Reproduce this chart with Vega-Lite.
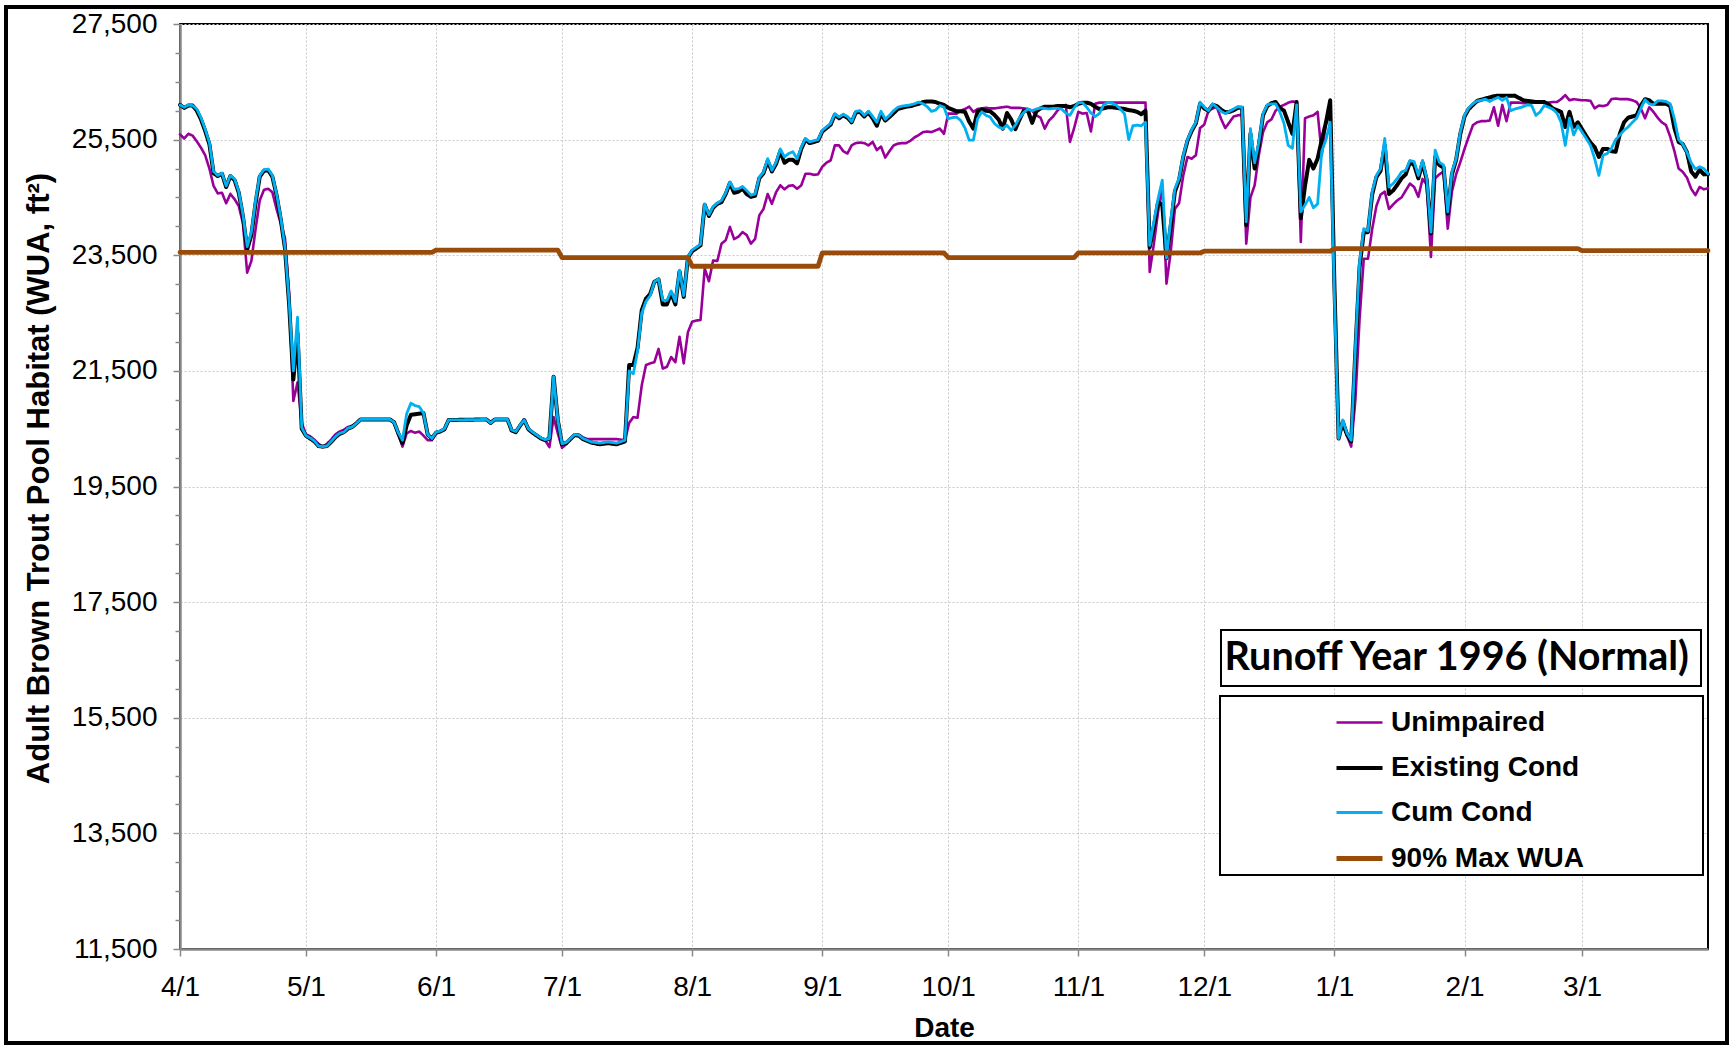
{
  "$schema": "https://vega.github.io/schema/vega-lite/v6.json",
  "width": 1528,
  "height": 925,
  "autosize": {"type": "none"},
  "padding": {"left": 180, "top": 24, "right": 22, "bottom": 97},
  "background": "white",
  "config": {
    "font": "Liberation Sans",
    "view": {"stroke": "#000000", "strokeWidth": 2}
  },
  "data": {
    "format": {"parse": {"d": "date:'%m/%d/%y'"}},
    "values": [
      {"d":"4/1/96","c":26100,"e":26100,"u":25590,"m":23550},
      {"d":"4/2/96","c":26060,"e":26050,"u":25520},
      {"d":"4/3/96","c":26100,"e":26090,"u":25600},
      {"d":"4/4/96","c":26090,"e":26090,"u":25570},
      {"d":"4/5/96","c":26030,"e":26000,"u":25470},
      {"d":"4/6/96","c":25880,"e":25850,"u":25360},
      {"d":"4/7/96","c":25680,"e":25650,"u":25230},
      {"d":"4/8/96","c":25450,"e":25420,"u":25000},
      {"d":"4/9/96","c":24950,"e":24920,"u":24700},
      {"d":"4/10/96","c":24880,"e":24870,"u":24570},
      {"d":"4/11/96","c":24920,"e":24910,"u":24580},
      {"d":"4/12/96","c":24700,"e":24680,"u":24400},
      {"d":"4/13/96","c":24880,"e":24870,"u":24560},
      {"d":"4/14/96","c":24820,"e":24800,"u":24470},
      {"d":"4/15/96","c":24600,"e":24580,"u":24350},
      {"d":"4/16/96","c":24200,"e":24170,"u":24050},
      {"d":"4/17/96","c":23650,"e":23600,"u":23200},
      {"d":"4/18/96","c":23900,"e":23850,"u":23400},
      {"d":"4/19/96","c":24450,"e":24400,"u":23950},
      {"d":"4/20/96","c":24880,"e":24860,"u":24450},
      {"d":"4/21/96","c":24980,"e":24960,"u":24630},
      {"d":"4/22/96","c":24990,"e":24970,"u":24650},
      {"d":"4/23/96","c":24880,"e":24860,"u":24590},
      {"d":"4/24/96","c":24560,"e":24540,"u":24300},
      {"d":"4/25/96","c":24150,"e":24120,"u":24050},
      {"d":"4/26/96","c":23650,"e":23620,"u":23800},
      {"d":"4/27/96","c":22700,"e":22650,"u":22850},
      {"d":"4/28/96","c":21500,"e":21350,"u":20980},
      {"d":"4/29/96","c":22430,"e":22150,"u":21300},
      {"d":"4/30/96","c":20520,"e":20500,"u":20600},
      {"d":"5/1/96","c":20380,"e":20380,"u":20400},
      {"d":"5/2/96","c":20340,"e":20330,"u":20370},
      {"d":"5/3/96","c":20290,"e":20280,"u":20310},
      {"d":"5/4/96","c":20200,"e":20200,"u":20240},
      {"d":"5/5/96","c":20190,"e":20190,"u":20180},
      {"d":"5/6/96","c":20200,"e":20200,"u":20240},
      {"d":"5/7/96","c":20280,"e":20270,"u":20310},
      {"d":"5/8/96","c":20360,"e":20350,"u":20400},
      {"d":"5/9/96","c":20420,"e":20410,"u":20450},
      {"d":"5/10/96","c":20440,"e":20440,"u":20480},
      {"d":"5/11/96","c":20510,"e":20500,"u":20530},
      {"d":"5/12/96","c":20530,"e":20530,"u":20550},
      {"d":"5/13/96","c":20590,"e":20590,"u":20600},
      {"d":"5/14/96","c":20660,"e":20660,"u":20660},
      {"d":"5/21/96","c":20660,"e":20660,"u":20660},
      {"d":"5/22/96","c":20610,"e":20610,"u":20600},
      {"d":"5/23/96","c":20430,"e":20420,"u":20400},
      {"d":"5/24/96","c":20300,"e":20250,"u":20190},
      {"d":"5/25/96","c":20760,"e":20560,"u":20420},
      {"d":"5/26/96","c":20940,"e":20740,"u":20460},
      {"d":"5/27/96","c":20900,"e":20750,"u":20430},
      {"d":"5/28/96","c":20880,"e":20760,"u":20450},
      {"d":"5/29/96","c":20770,"e":20770,"u":20380},
      {"d":"5/30/96","c":20400,"e":20400,"u":20300},
      {"d":"5/31/96","c":20330,"e":20330,"u":20300,"m":23550},
      {"d":"6/1/96","c":20440,"e":20430,"u":20420,"m":23590},
      {"d":"6/2/96","c":20460,"e":20450,"u":20450},
      {"d":"6/3/96","c":20500,"e":20490,"u":20480},
      {"d":"6/4/96","c":20650,"e":20650,"u":20650},
      {"d":"6/13/96","c":20660,"e":20660,"u":20660},
      {"d":"6/14/96","c":20600,"e":20600,"u":20600},
      {"d":"6/15/96","c":20660,"e":20660,"u":20660},
      {"d":"6/18/96","c":20660,"e":20660,"u":20660},
      {"d":"6/19/96","c":20480,"e":20470,"u":20480},
      {"d":"6/20/96","c":20450,"e":20440,"u":20450},
      {"d":"6/21/96","c":20560,"e":20550,"u":20560},
      {"d":"6/22/96","c":20650,"e":20650,"u":20650},
      {"d":"6/23/96","c":20500,"e":20490,"u":20500},
      {"d":"6/24/96","c":20440,"e":20430,"u":20440},
      {"d":"6/25/96","c":20390,"e":20380,"u":20390},
      {"d":"6/26/96","c":20340,"e":20330,"u":20340},
      {"d":"6/27/96","c":20310,"e":20300,"u":20300},
      {"d":"6/28/96","c":20330,"e":20330,"u":20180},
      {"d":"6/29/96","c":21400,"e":21400,"u":20700},
      {"d":"6/30/96","c":20650,"e":20650,"u":20420,"m":23590},
      {"d":"7/1/96","c":20240,"e":20230,"u":20170,"m":23460},
      {"d":"7/2/96","c":20260,"e":20250,"u":20230},
      {"d":"7/3/96","c":20330,"e":20320,"u":20330},
      {"d":"7/4/96","c":20400,"e":20390,"u":20400},
      {"d":"7/5/96","c":20390,"e":20380,"u":20400},
      {"d":"7/6/96","c":20330,"e":20320,"u":20350},
      {"d":"7/7/96","c":20300,"e":20290,"u":20320},
      {"d":"7/8/96","c":20270,"e":20260,"u":20320},
      {"d":"7/10/96","c":20250,"e":20230,"u":20320},
      {"d":"7/12/96","c":20270,"e":20250,"u":20320},
      {"d":"7/14/96","c":20250,"e":20230,"u":20320},
      {"d":"7/16/96","c":20300,"e":20280,"u":20300},
      {"d":"7/17/96","c":21500,"e":21600,"u":20600},
      {"d":"7/18/96","c":21450,"e":21600,"u":20700},
      {"d":"7/19/96","c":21850,"e":21900,"u":20690},
      {"d":"7/20/96","c":22500,"e":22550,"u":21250},
      {"d":"7/21/96","c":22700,"e":22750,"u":21600},
      {"d":"7/22/96","c":22800,"e":22830,"u":21630},
      {"d":"7/23/96","c":23040,"e":23040,"u":21650},
      {"d":"7/24/96","c":23090,"e":23080,"u":21880},
      {"d":"7/25/96","c":22720,"e":22650,"u":21540},
      {"d":"7/26/96","c":22720,"e":22650,"u":21570},
      {"d":"7/27/96","c":22880,"e":22850,"u":21740},
      {"d":"7/28/96","c":22700,"e":22650,"u":21650},
      {"d":"7/29/96","c":23240,"e":23220,"u":22090},
      {"d":"7/30/96","c":22800,"e":22780,"u":21630},
      {"d":"7/31/96","c":23470,"e":23460,"u":22170,"m":23460},
      {"d":"8/1/96","c":23590,"e":23570,"u":22350,"m":23310},
      {"d":"8/2/96","c":23640,"e":23620,"u":22370},
      {"d":"8/3/96","c":23690,"e":23670,"u":22380},
      {"d":"8/4/96","c":24390,"e":24370,"u":23270},
      {"d":"8/5/96","c":24200,"e":24180,"u":23050},
      {"d":"8/6/96","c":24340,"e":24320,"u":23410},
      {"d":"8/7/96","c":24400,"e":24390,"u":23400},
      {"d":"8/8/96","c":24450,"e":24420,"u":23700},
      {"d":"8/9/96","c":24580,"e":24560,"u":23760},
      {"d":"8/10/96","c":24770,"e":24750,"u":23990},
      {"d":"8/11/96","c":24640,"e":24580,"u":23780},
      {"d":"8/12/96","c":24650,"e":24600,"u":23820},
      {"d":"8/13/96","c":24690,"e":24650,"u":23900},
      {"d":"8/14/96","c":24620,"e":24560,"u":23850},
      {"d":"8/15/96","c":24540,"e":24510,"u":23700},
      {"d":"8/16/96","c":24560,"e":24530,"u":23780},
      {"d":"8/17/96","c":24850,"e":24830,"u":24190},
      {"d":"8/18/96","c":24940,"e":24920,"u":24300},
      {"d":"8/19/96","c":25170,"e":25130,"u":24560},
      {"d":"8/20/96","c":24970,"e":24950,"u":24390},
      {"d":"8/21/96","c":25110,"e":25080,"u":24590},
      {"d":"8/22/96","c":25340,"e":25300,"u":24710},
      {"d":"8/23/96","c":25200,"e":25100,"u":24640},
      {"d":"8/24/96","c":25260,"e":25150,"u":24700},
      {"d":"8/25/96","c":25290,"e":25150,"u":24710},
      {"d":"8/26/96","c":25170,"e":25090,"u":24650},
      {"d":"8/27/96","c":25370,"e":25340,"u":24710},
      {"d":"8/28/96","c":25520,"e":25500,"u":24910},
      {"d":"8/29/96","c":25460,"e":25440,"u":24910},
      {"d":"8/30/96","c":25480,"e":25460,"u":24890},
      {"d":"8/31/96","c":25500,"e":25480,"u":24900,"m":23310},
      {"d":"9/1/96","c":25660,"e":25640,"u":25030,"m":23540},
      {"d":"9/2/96","c":25720,"e":25700,"u":25100},
      {"d":"9/3/96","c":25780,"e":25760,"u":25140},
      {"d":"9/4/96","c":25950,"e":25930,"u":25400},
      {"d":"9/5/96","c":25890,"e":25870,"u":25400},
      {"d":"9/6/96","c":25940,"e":25920,"u":25300},
      {"d":"9/7/96","c":25900,"e":25880,"u":25260},
      {"d":"9/8/96","c":25810,"e":25800,"u":25400},
      {"d":"9/9/96","c":25990,"e":25970,"u":25440},
      {"d":"9/10/96","c":26000,"e":25980,"u":25450},
      {"d":"9/11/96","c":25920,"e":25900,"u":25440},
      {"d":"9/12/96","c":25990,"e":25970,"u":25400},
      {"d":"9/13/96","c":25900,"e":25870,"u":25460},
      {"d":"9/14/96","c":25800,"e":25740,"u":25320},
      {"d":"9/15/96","c":25990,"e":25950,"u":25380},
      {"d":"9/16/96","c":25850,"e":25830,"u":25190},
      {"d":"9/17/96","c":25920,"e":25890,"u":25300},
      {"d":"9/18/96","c":26000,"e":25960,"u":25400},
      {"d":"9/19/96","c":26060,"e":26030,"u":25430},
      {"d":"9/20/96","c":26080,"e":26050,"u":25440},
      {"d":"9/21/96","c":26090,"e":26070,"u":25440},
      {"d":"9/22/96","c":26100,"e":26080,"u":25480},
      {"d":"9/23/96","c":26120,"e":26100,"u":25540},
      {"d":"9/24/96","c":26150,"e":26120,"u":25580},
      {"d":"9/25/96","c":26120,"e":26150,"u":25630},
      {"d":"9/26/96","c":26070,"e":26160,"u":25640},
      {"d":"9/27/96","c":25990,"e":26160,"u":25630},
      {"d":"9/28/96","c":26010,"e":26150,"u":25660},
      {"d":"9/29/96","c":26090,"e":26120,"u":25690},
      {"d":"9/30/96","c":26060,"e":26100,"u":25600,"m":23540},
      {"d":"10/1/96","c":25860,"e":26050,"u":25950,"m":23460},
      {"d":"10/2/96","c":25880,"e":26020,"u":25950},
      {"d":"10/3/96","c":25890,"e":25990,"u":25950},
      {"d":"10/4/96","c":25830,"e":25990,"u":26000},
      {"d":"10/5/96","c":25700,"e":25980,"u":26030},
      {"d":"10/6/96","c":25490,"e":25810,"u":26070},
      {"d":"10/7/96","c":25490,"e":25690,"u":25980},
      {"d":"10/8/96","c":25860,"e":25990,"u":26030},
      {"d":"10/9/96","c":25980,"e":26020,"u":26040},
      {"d":"10/10/96","c":25920,"e":26000,"u":26050},
      {"d":"10/11/96","c":25890,"e":25990,"u":26040},
      {"d":"10/12/96","c":25780,"e":25930,"u":26040},
      {"d":"10/13/96","c":25720,"e":25850,"u":26050},
      {"d":"10/14/96","c":25690,"e":25690,"u":26060},
      {"d":"10/15/96","c":25750,"e":25960,"u":26070},
      {"d":"10/16/96","c":25660,"e":25850,"u":26050},
      {"d":"10/17/96","c":25750,"e":25680,"u":26050},
      {"d":"10/18/96","c":25880,"e":25850,"u":26050},
      {"d":"10/19/96","c":25970,"e":26000,"u":26040},
      {"d":"10/20/96","c":26030,"e":26000,"u":26030},
      {"d":"10/21/96","c":26000,"e":25790,"u":26000},
      {"d":"10/22/96","c":26030,"e":25990,"u":25920},
      {"d":"10/23/96","c":26050,"e":26040,"u":25880},
      {"d":"10/24/96","c":26040,"e":26070,"u":25690},
      {"d":"10/25/96","c":26030,"e":26070,"u":25830},
      {"d":"10/26/96","c":26040,"e":26070,"u":25900},
      {"d":"10/27/96","c":26040,"e":26080,"u":26000},
      {"d":"10/28/96","c":26030,"e":26080,"u":26070},
      {"d":"10/29/96","c":25960,"e":26080,"u":26100},
      {"d":"10/30/96","c":25920,"e":26060,"u":25460},
      {"d":"10/31/96","c":26050,"e":26080,"u":25700,"m":23460},
      {"d":"11/1/96","c":26140,"e":26120,"u":25980,"m":23540},
      {"d":"11/2/96","c":26140,"e":26140,"u":25950},
      {"d":"11/3/96","c":26060,"e":26140,"u":25960},
      {"d":"11/4/96","c":25960,"e":26120,"u":25640},
      {"d":"11/5/96","c":25900,"e":26070,"u":26120},
      {"d":"11/6/96","c":25950,"e":26030,"u":26140},
      {"d":"11/7/96","c":26100,"e":26040,"u":26140},
      {"d":"11/8/96","c":26140,"e":26060,"u":26140},
      {"d":"11/9/96","c":26130,"e":26060,"u":26140},
      {"d":"11/10/96","c":26100,"e":26050,"u":26140},
      {"d":"11/11/96","c":26030,"e":26040,"u":26140},
      {"d":"11/12/96","c":25950,"e":26030,"u":26140},
      {"d":"11/13/96","c":25500,"e":26010,"u":26140},
      {"d":"11/14/96","c":25740,"e":26000,"u":26140},
      {"d":"11/15/96","c":25750,"e":25980,"u":26140},
      {"d":"11/16/96","c":25740,"e":25940,"u":26140},
      {"d":"11/17/96","c":25800,"e":26000,"u":26140},
      {"d":"11/18/96","c":23670,"e":23640,"u":23210},
      {"d":"11/19/96","c":24080,"e":24000,"u":23700},
      {"d":"11/20/96","c":24480,"e":24420,"u":24250},
      {"d":"11/21/96","c":24800,"e":24370,"u":24700},
      {"d":"11/22/96","c":23450,"e":23450,"u":23010},
      {"d":"11/23/96","c":24100,"e":24000,"u":23550},
      {"d":"11/24/96","c":24650,"e":24600,"u":24300},
      {"d":"11/25/96","c":24830,"e":24800,"u":24400},
      {"d":"11/26/96","c":25230,"e":25200,"u":24880},
      {"d":"11/27/96","c":25500,"e":25480,"u":25200},
      {"d":"11/28/96","c":25670,"e":25650,"u":25170},
      {"d":"11/29/96","c":25800,"e":25780,"u":25230},
      {"d":"11/30/96","c":26150,"e":26120,"u":25700,"m":23540},
      {"d":"12/1/96","c":26060,"e":26040,"u":25760,"m":23570},
      {"d":"12/2/96","c":26000,"e":26000,"u":26000},
      {"d":"12/3/96","c":26120,"e":26100,"u":26040},
      {"d":"12/4/96","c":26060,"e":26080,"u":26060},
      {"d":"12/5/96","c":25990,"e":26020,"u":25860},
      {"d":"12/6/96","c":25950,"e":25970,"u":25700},
      {"d":"12/7/96","c":25990,"e":25980,"u":25800},
      {"d":"12/8/96","c":26030,"e":26010,"u":25900},
      {"d":"12/9/96","c":26070,"e":26050,"u":25920},
      {"d":"12/10/96","c":26060,"e":26050,"u":25930},
      {"d":"12/11/96","c":24080,"e":24020,"u":23700},
      {"d":"12/12/96","c":25690,"e":25600,"u":24500},
      {"d":"12/13/96","c":25100,"e":25000,"u":24710},
      {"d":"12/14/96","c":25450,"e":25400,"u":25230},
      {"d":"12/15/96","c":25950,"e":25920,"u":25630},
      {"d":"12/16/96","c":26100,"e":26080,"u":25800},
      {"d":"12/17/96","c":26120,"e":26130,"u":25850},
      {"d":"12/18/96","c":26120,"e":26150,"u":26000},
      {"d":"12/19/96","c":25980,"e":26050,"u":26070},
      {"d":"12/20/96","c":25780,"e":26000,"u":26100},
      {"d":"12/21/96","c":25400,"e":25800,"u":26140},
      {"d":"12/22/96","c":25350,"e":25600,"u":26160},
      {"d":"12/23/96","c":26100,"e":26150,"u":26150},
      {"d":"12/24/96","c":24250,"e":24140,"u":23730},
      {"d":"12/25/96","c":24370,"e":24700,"u":25870},
      {"d":"12/26/96","c":24500,"e":25150,"u":25900},
      {"d":"12/27/96","c":24320,"e":25000,"u":25920},
      {"d":"12/28/96","c":24390,"e":25170,"u":25980},
      {"d":"12/29/96","c":25300,"e":25500,"u":25230},
      {"d":"12/30/96","c":25500,"e":25800,"u":25800},
      {"d":"12/31/96","c":25800,"e":26180,"u":26090,"m":23570},
      {"d":"1/1/97","c":22800,"e":23000,"u":22800,"m":23615},
      {"d":"1/2/97","c":20330,"e":20330,"u":20400},
      {"d":"1/3/97","c":20650,"e":20620,"u":20550},
      {"d":"1/4/97","c":20420,"e":20400,"u":20380},
      {"d":"1/5/97","c":20300,"e":20280,"u":20190},
      {"d":"1/6/97","c":21900,"e":21850,"u":21000},
      {"d":"1/7/97","c":23380,"e":23300,"u":22400},
      {"d":"1/8/97","c":23960,"e":23900,"u":23440},
      {"d":"1/9/97","c":23920,"e":23900,"u":23440},
      {"d":"1/10/97","c":24600,"e":24550,"u":23950},
      {"d":"1/11/97","c":24880,"e":24850,"u":24350},
      {"d":"1/12/97","c":25000,"e":24960,"u":24550},
      {"d":"1/13/97","c":25520,"e":25400,"u":24600},
      {"d":"1/14/97","c":24680,"e":24560,"u":24300},
      {"d":"1/15/97","c":24740,"e":24620,"u":24380},
      {"d":"1/16/97","c":24830,"e":24720,"u":24450},
      {"d":"1/17/97","c":24940,"e":24830,"u":24500},
      {"d":"1/18/97","c":24970,"e":24900,"u":24620},
      {"d":"1/19/97","c":25140,"e":25110,"u":24740},
      {"d":"1/20/97","c":25120,"e":25060,"u":24680},
      {"d":"1/21/97","c":24880,"e":24830,"u":24510},
      {"d":"1/22/97","c":25140,"e":25100,"u":24820},
      {"d":"1/23/97","c":24830,"e":24800,"u":24720},
      {"d":"1/24/97","c":23900,"e":23880,"u":23470},
      {"d":"1/25/97","c":25320,"e":25200,"u":24830},
      {"d":"1/26/97","c":25110,"e":25060,"u":24900},
      {"d":"1/27/97","c":25060,"e":25020,"u":24950},
      {"d":"1/28/97","c":24250,"e":24220,"u":23960},
      {"d":"1/29/97","c":24940,"e":24900,"u":24600},
      {"d":"1/30/97","c":25170,"e":25150,"u":24900},
      {"d":"1/31/97","c":25630,"e":25600,"u":25110},
      {"d":"2/1/97","c":25920,"e":25900,"u":25340},
      {"d":"2/2/97","c":26050,"e":26030,"u":25550},
      {"d":"2/3/97","c":26120,"e":26100,"u":25750},
      {"d":"2/4/97","c":26170,"e":26170,"u":25800},
      {"d":"2/5/97","c":26180,"e":26190,"u":25820},
      {"d":"2/6/97","c":26200,"e":26210,"u":25820},
      {"d":"2/7/97","c":26160,"e":26230,"u":25830},
      {"d":"2/8/97","c":26200,"e":26250,"u":26060},
      {"d":"2/9/97","c":26230,"e":26260,"u":25740},
      {"d":"2/10/97","c":26180,"e":26260,"u":26100},
      {"d":"2/11/97","c":26230,"e":26260,"u":25820},
      {"d":"2/12/97","c":26000,"e":26260,"u":26140},
      {"d":"2/13/97","c":26030,"e":26260,"u":26140},
      {"d":"2/14/97","c":26050,"e":26220,"u":26140},
      {"d":"2/15/97","c":26070,"e":26180,"u":26130},
      {"d":"2/16/97","c":26100,"e":26170,"u":26140},
      {"d":"2/17/97","c":26090,"e":26160,"u":26140},
      {"d":"2/18/97","c":25920,"e":26150,"u":26140},
      {"d":"2/19/97","c":25980,"e":26150,"u":26140},
      {"d":"2/20/97","c":26090,"e":26150,"u":26140},
      {"d":"2/21/97","c":26060,"e":26110,"u":26140},
      {"d":"2/22/97","c":26030,"e":26040,"u":26150},
      {"d":"2/23/97","c":25960,"e":26010,"u":26150},
      {"d":"2/24/97","c":25800,"e":25980,"u":26200},
      {"d":"2/25/97","c":25400,"e":25720,"u":26270},
      {"d":"2/26/97","c":25870,"e":25980,"u":26180},
      {"d":"2/27/97","c":25580,"e":25720,"u":26200},
      {"d":"2/28/97","c":25740,"e":25800,"u":26190,"m":23615},
      {"d":"3/1/97","c":25630,"e":25680,"u":26180,"m":23580},
      {"d":"3/2/97","c":25520,"e":25560,"u":26180},
      {"d":"3/3/97","c":25400,"e":25450,"u":26170},
      {"d":"3/4/97","c":25170,"e":25370,"u":26040},
      {"d":"3/5/97","c":24880,"e":25200,"u":26090},
      {"d":"3/6/97","c":25230,"e":25340,"u":26080},
      {"d":"3/7/97","c":25260,"e":25340,"u":26100},
      {"d":"3/8/97","c":25350,"e":25300,"u":26200},
      {"d":"3/9/97","c":25500,"e":25290,"u":26210},
      {"d":"3/10/97","c":25580,"e":25600,"u":26200},
      {"d":"3/11/97","c":25660,"e":25800,"u":26200},
      {"d":"3/12/97","c":25720,"e":25880,"u":26200},
      {"d":"3/13/97","c":25800,"e":25900,"u":26180},
      {"d":"3/14/97","c":25870,"e":25920,"u":26150},
      {"d":"3/15/97","c":26040,"e":26090,"u":26040},
      {"d":"3/16/97","c":26190,"e":26200,"u":25870},
      {"d":"3/17/97","c":26120,"e":26180,"u":26060},
      {"d":"3/18/97","c":26100,"e":26120,"u":25980},
      {"d":"3/19/97","c":26170,"e":26120,"u":25880},
      {"d":"3/20/97","c":26170,"e":26120,"u":25800},
      {"d":"3/21/97","c":26160,"e":26120,"u":25750},
      {"d":"3/22/97","c":26120,"e":26080,"u":25550},
      {"d":"3/23/97","c":25860,"e":25700,"u":25300},
      {"d":"3/24/97","c":25500,"e":25460,"u":25000},
      {"d":"3/25/97","c":25420,"e":25420,"u":24940},
      {"d":"3/26/97","c":25280,"e":25280,"u":24840},
      {"d":"3/27/97","c":25100,"e":24950,"u":24650},
      {"d":"3/28/97","c":24990,"e":24860,"u":24540},
      {"d":"3/29/97","c":25030,"e":24980,"u":24680},
      {"d":"3/30/97","c":25000,"e":24900,"u":24640},
      {"d":"3/31/97","c":24910,"e":24900,"u":24660,"m":23580}
    ]
  },
  "transform": [
    {"fold": ["u", "e", "c", "m"], "as": ["s", "v"]},
    {"filter": "isValid(datum.v)"}
  ],
  "mark": {"type": "line", "strokeJoin": "round", "strokeCap": "round"},
  "encoding": {
    "x": {
      "field": "d", "type": "temporal", "title": "Date",
      "scale": {"domain": [{"year": 1996, "month": 4, "date": 1}, {"year": 1997, "month": 3, "date": 31}], "nice": false},
      "axis": {
        "format": "%-m/%-d", "tickCount": {"interval": "month", "step": 1},
        "labelFontSize": 28, "labelColor": "#000000", "labelPadding": 17, "labelOverlap": false, "labelFlush": false,
        "tickSize": 7, "tickColor": "#888888", "tickWidth": 1.5,
        "domainColor": "#888888", "domainWidth": 2.5,
        "grid": true, "gridColor": "#c8c8c8", "gridDash": [2, 2], "gridWidth": 1,
        "titleFontSize": 28, "titleFontWeight": "bold", "titleColor": "#000000",
        "titleY": 79, "titleBaseline": "middle"
      }
    },
    "y": {
      "field": "v", "type": "quantitative", "title": "Adult Brown Trout Pool Habitat (WUA, ft²)",
      "scale": {"domain": [11500, 27500], "nice": false, "zero": false},
      "axis": {
        "values": [11500,12000,12500,13000,13500,14000,14500,15000,15500,16000,16500,17000,17500,18000,18500,19000,19500,20000,20500,21000,21500,22000,22500,23000,23500,24000,24500,25000,25500,26000,26500,27000,27500],
        "labelExpr": "(datum.value - 11500) % 2000 == 0 ? format(datum.value, ',') : ''",
        "labelFontSize": 28, "labelColor": "#000000", "labelPadding": 16, "labelOverlap": false, "labelFlush": false,
        "tickSize": {"condition": {"test": "(datum.value - 11500) % 2000 == 0", "value": 7}, "value": 5},
        "tickColor": "#888888", "tickWidth": 1.5,
        "domainColor": "#888888", "domainWidth": 2.5,
        "grid": true, "gridDash": [2, 2], "gridWidth": 1,
        "gridColor": {"condition": {"test": "(datum.value - 11500) % 2000 == 0", "value": "#c8c8c8"}, "value": "transparent"},
        "titleFontSize": 31, "titleFontWeight": "bold", "titleColor": "#000000",
        "titleX": -141, "titleY": 454, "titleAngle": -90, "titleAlign": "center", "titleBaseline": "middle"
      }
    },
    "color": {
      "field": "s", "type": "nominal",
      "scale": {"domain": ["u", "e", "c", "m"], "range": ["#990099", "#000000", "#00B0F0", "#994C0A"]},
      "legend": {
        "orient": "none", "legendX": 1040, "legendY": 672,
        "title": ".", "titleOrient": "left", "titleColor": "transparent", "titleFontSize": 10, "titlePadding": 109,
        "labelExpr": "{'u': 'Unimpaired', 'e': 'Existing Cond', 'c': 'Cum Cond', 'm': '90% Max WUA'}[datum.label] + pad('', 15) + '\u200b'",
        "labelFont": "Liberation Sans", "labelFontSize": 28, "labelFontWeight": "bold", "labelColor": "#000000",
        "labelLimit": 1000, "labelOffset": 6,
        "symbolType": "stroke", "symbolSize": 2116,
        "padding": 2, "rowPadding": 6,
        "strokeColor": "#000000", "fillColor": "#ffffff",
        "encode": {"legend": {"update": {"strokeWidth": {"value": 2}}}}
      }
    },
    "strokeWidth": {
      "field": "s", "type": "nominal",
      "scale": {"type": "ordinal", "domain": ["u", "e", "c", "m"], "range": [2.6, 4, 2.8, 4.8]},
      "legend": {
        "orient": "none", "legendX": 1040, "legendY": 672,
        "title": ".", "titleOrient": "left", "titleColor": "transparent", "titleFontSize": 10, "titlePadding": 109,
        "labelExpr": "{'u': 'Unimpaired', 'e': 'Existing Cond', 'c': 'Cum Cond', 'm': '90% Max WUA'}[datum.label] + pad('', 15) + '\u200b'",
        "labelFont": "Liberation Sans", "labelFontSize": 28, "labelFontWeight": "bold", "labelColor": "#000000",
        "labelLimit": 1000, "labelOffset": 6,
        "symbolType": "stroke", "symbolSize": 2116,
        "padding": 2, "rowPadding": 6,
        "strokeColor": "#000000", "fillColor": "#ffffff",
        "encode": {"legend": {"update": {"strokeWidth": {"value": 2}}}}
      }
    },
    "strokeDash": {
      "datum": "Runoff Year 1996 (Normal)",
      "scale": {"range": [[1, 0]]},
      "legend": {
        "orient": "none", "legendX": 1041, "legendY": 606, "title": null,
        "labelFont": "Lato", "labelFontSize": 39.5, "labelFontWeight": "bold", "labelColor": "#000000",
        "labelLimit": 1000, "labelOffset": -44,
        "symbolSize": 0, "symbolOpacity": 0, "symbolStrokeWidth": 0,
        "padding": 8, "strokeColor": "#000000", "fillColor": "#ffffff",
        "encode": {"legend": {"update": {"strokeWidth": {"value": 2}}}}
      }
    },
    "opacity": {
      "datum": "frame",
      "scale": {"range": [1, 1]},
      "legend": {
        "orient": "none", "legendX": -174, "legendY": -17, "title": null,
        "padding": 513, "strokeColor": "#000000",
        "symbolSize": 0, "symbolOpacity": 0, "symbolStrokeWidth": 0,
        "labelOpacity": 0, "labelFontSize": 10, "labelOffset": 0, "labelLimit": 5000,
        "labelExpr": "pad('', 123, '0')",
        "encode": {"legend": {"update": {"strokeWidth": {"value": 4}}}}
      }
    }
  }
}
